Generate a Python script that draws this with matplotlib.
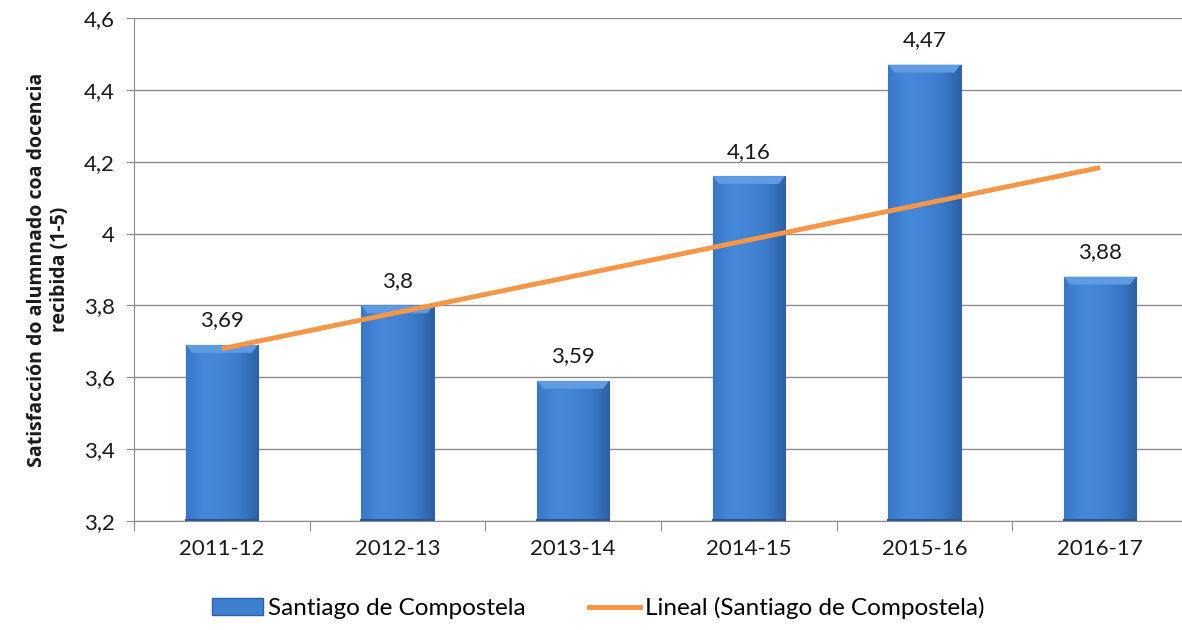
import numpy as np
import matplotlib.pyplot as plt
from matplotlib.patches import Polygon
from matplotlib.colors import LinearSegmentedColormap
from matplotlib.lines import Line2D

plt.rcParams['font.family'] = ['Lato', 'DejaVu Sans']

years = ['2011-12', '2012-13', '2013-14', '2014-15', '2015-16', '2016-17']
values = [3.69, 3.8, 3.59, 4.16, 4.47, 3.88]
series_name = 'Santiago de Compostela'
trend_name = 'Lineal (Santiago de Compostela)'
ylabel = 'Satisfacción do alumnnado coa docencia\nrecibida (1-5)'


def comma(v):
    s = ('%.2f' % v).rstrip('0').rstrip('.')
    return s.replace('.', ',')


fs = 16
fig = plt.figure(figsize=(11.82, 6.3), dpi=100)
ax = fig.add_axes([134 / 1182, 1 - 521 / 630, 1054 / 1182, 503 / 630])

x = np.arange(len(years))
ymin, ymax = 3.2, 4.6
ax.set_xlim(-0.5, len(years) - 0.5)
ax.set_ylim(ymin, ymax)

# gridlines
ax.set_yticks(np.arange(3.2, 4.61, 0.2))
ax.yaxis.grid(True, color='#8c8c8c', linewidth=1.0)
ax.set_axisbelow(True)

# bars with a horizontal gradient and bevelled top
width = 0.41
cmap = LinearSegmentedColormap.from_list(
    'bar', ['#3a76c6', '#4588d9', '#4384d5', '#3b7aca', '#2d61a2'])
grad = np.linspace(0, 1, 256).reshape(1, -1)
bars = ax.bar(x, np.array(values) - ymin, width, bottom=ymin,
              color='#3e7fd0', edgecolor='#3468ab', linewidth=0.8, zorder=2)
bh = 0.022
bw = 0.035
for xi, v, b in zip(x, values, bars):
    im = ax.imshow(grad, cmap=cmap, aspect='auto', zorder=2.1,
                   extent=[xi - width / 2, xi + width / 2, ymin, v])
    im.set_clip_path(b)
    top = Polygon([[xi - width / 2, v], [xi + width / 2, v],
                   [xi + width / 2 - bw, v - bh], [xi - width / 2 + bw, v - bh]],
                  closed=True, facecolor='#5e9be2', edgecolor='none', zorder=2.2)
    ax.add_patch(top)
    ax.plot([xi - width / 2, xi + width / 2], [ymin + 0.002, ymin + 0.002],
            color='#2a5690', lw=1.5, zorder=2.3)
    ax.text(xi, v + 0.04, comma(v), ha='center', va='bottom', fontsize=fs,
            color='#1a1a1a')

# linear trend line
coef = np.polyfit(x, values, 1)
ax.plot([x[0], x[-1]], np.polyval(coef, [x[0], x[-1]]), color='#f79646',
        linewidth=3.5, solid_capstyle='butt', zorder=3)

# axes styling
for s in ['top', 'right']:
    ax.spines[s].set_visible(False)
ax.spines['left'].set_color('#8c8c8c')
ax.spines['bottom'].set_color('#8c8c8c')
ax.set_yticklabels([comma(t) for t in ax.get_yticks()], fontsize=fs, color='#1a1a1a')
ax.tick_params(axis='y', length=6, color='#8c8c8c', pad=8)
ax.set_xticks(np.arange(-0.5, len(years), 1.0), minor=False)
ax.set_xticklabels([])
ax.tick_params(axis='x', length=7, color='#8c8c8c', direction='out')
ax.set_xticks(x, minor=True)
ax.set_xticklabels(years, minor=True, fontsize=fs, color='#1a1a1a')
ax.tick_params(axis='x', which='minor', length=0, pad=13)
ax.set_ylabel(ylabel, fontsize=14, fontweight='bold', labelpad=10, color='#1a1a1a',
              family=['Open Sans', 'DejaVu Sans'])

handles = [Polygon([[0, 0]], facecolor='#3e7fd0', edgecolor='#2f62a3'),
           Line2D([], [], color='#f79646', linewidth=3.5)]
fig.legend(handles, [series_name, trend_name], loc='center', ncol=2,
           bbox_to_anchor=(598 / 1182, 1 - 608 / 630), frameon=False, fontsize=17.5,
           handlelength=2.1, handletextpad=0.2, columnspacing=2.6)

fig.savefig('out.png', dpi=100)
